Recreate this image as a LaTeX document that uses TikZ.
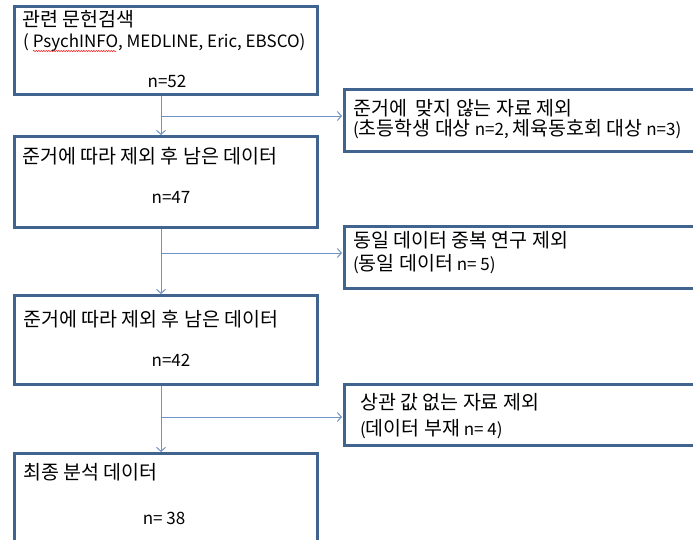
\documentclass[tikz,border=0pt]{standalone}
\usepackage{fontspec}
\setmainfont{Noto Sans CJK KR}
\usetikzlibrary{arrows.meta,decorations.pathmorphing}
\definecolor{boxc}{HTML}{41648F}
\definecolor{arrc}{HTML}{6F93C8}
\newcommand\K[1]{{\fontsize{19.5pt}{22pt}\selectfont #1}}
\begin{document}
\begin{tikzpicture}[x=1pt,y=-1pt,
  box/.style={draw=boxc,line width=2.5pt,minimum width=303pt,anchor=north west,inner sep=0pt},
  rbox/.style={draw=boxc,line width=2.5pt,minimum width=380pt,anchor=north west,inner sep=0pt},
  txt/.style={inner sep=0pt,text height=0.88em,text depth=0.12em,font=\fontsize{17pt}{20pt}\selectfont,text=black,yshift=-2pt},
  arr/.style={draw=arrc,line width=1pt,-{Straight Barb[length=4pt,width=9pt]}}]
\path[use as bounding box] (0,0) rectangle (693,539);
\clip (0,0) rectangle (693,539);
\fill[white] (0,0) rectangle (693,539);
% left boxes
\node[box,minimum height=88pt] (b1) at (13,5) {};
\node[box,minimum height=91pt] (b2) at (13,135) {};
\node[box,minimum height=89pt] (b3) at (13,294) {};
\node[box,minimum height=100pt] (b4) at (13,452) {};
% right boxes
\node[rbox,minimum height=62pt] (r1) at (343,88) {};
\node[rbox,minimum height=62pt] (r2) at (343,225) {};
\node[rbox,minimum height=61pt] (r3) at (343,383) {};
% texts
\node[txt,anchor=west] (t1a) at (22,21) {\K{관련 문헌검색}};
\node[txt,anchor=west] (t1b) at (23,42) {( PsychINFO, MEDLINE, Eric, EBSCO)};
\node[txt] (t1c) at (167,82) {n=52};
\node[txt,anchor=west] (t2a) at (22,158) {\K{준거에 따라 제외 후 남은 데이터}};
\node[txt] (t2b) at (171,198) {n=47};
\node[txt,anchor=west] (t3a) at (23,321) {\K{준거에 따라 제외 후 남은 데이터}};
\node[txt] (t3b) at (171,361) {n=42};
\node[txt,anchor=west] (t4a) at (23,474) {\K{최종 분석 데이터}};
\node[txt] (t4b) at (164,519) {n= 38};
\node[txt,anchor=west] (s1a) at (353,110) {\K{준거에\ \ 맞지 않는 자료 제외}};
\node[txt,anchor=west] (s1b) at (353,130) {(\K{초등학생 대상} n=2, \K{체육동호회 대상} n=3)};
\node[txt,anchor=west] (s2a) at (353,242) {\K{동일 데이터 중복 연구 제외}};
\node[txt,anchor=west] (s2b) at (353,265) {(\K{동일 데이터} n= 5)};
\node[txt,anchor=west] (s3a) at (360,404) {\K{상관 값 없는 자료 제외}};
\node[txt,anchor=west] (s3b) at (360,430) {(\K{데이터 부재} n= 4)};
% spell-check squiggle
\draw[red,line width=0.5pt,decorate,decoration={snake,amplitude=0.6pt,segment length=2.5pt}] (33,51) -- (116,51);
% connectors
\coordinate (v) at (161,0);
\coordinate (j1) at (161,116);
\coordinate (j2) at (161,253);
\coordinate (j3) at (161,417);
\draw[arr] (b1.south -| v) -- (b2.north -| v);
\draw[arr] (b2.south -| v) -- (b3.north -| v);
\draw[arr] (b3.south -| v) -- (b4.north -| v);
\draw[arr,shorten >=1pt] (j1) -- (j1 -| r1.west);
\draw[arr,shorten >=1pt] (j2) -- (j2 -| r2.west);
\draw[arr,shorten >=1pt] (j3) -- (j3 -| r3.west);
\end{tikzpicture}
\end{document}
